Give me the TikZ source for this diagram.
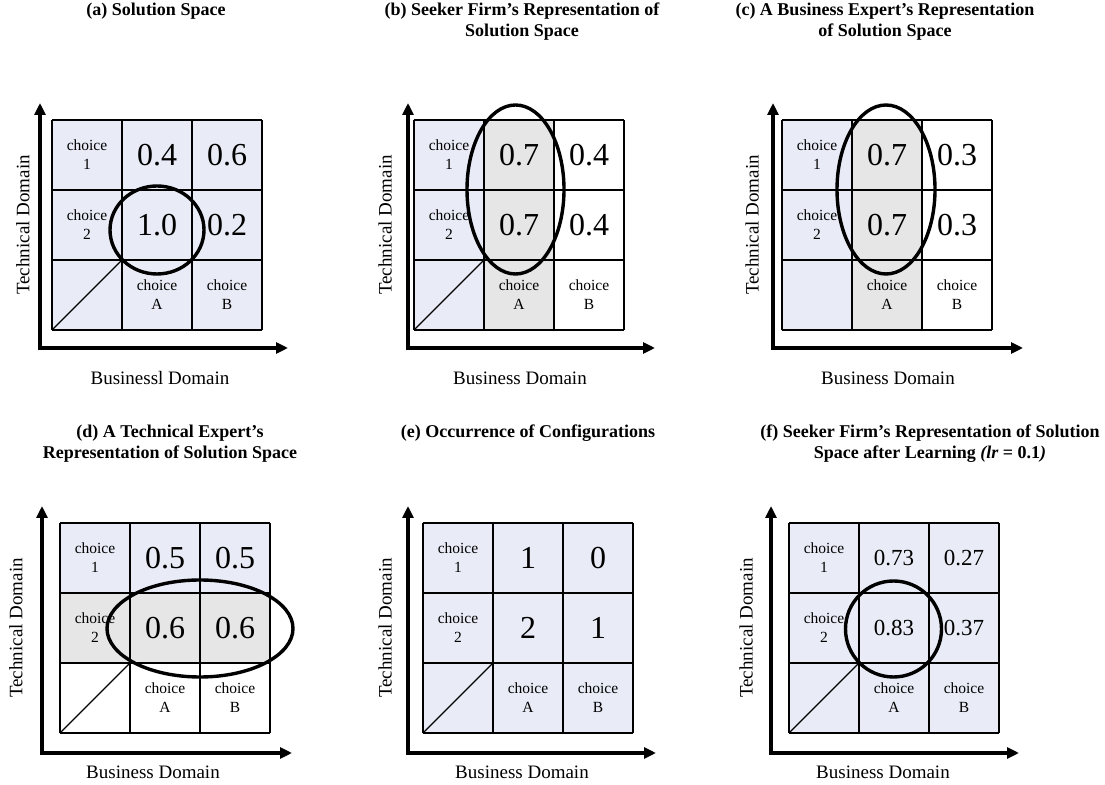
\documentclass[tikz,border=0pt]{standalone}
\usepackage{fontspec}
\setmainfont{Liberation Serif}
\usetikzlibrary{arrows.meta}
\definecolor{cellblue}{RGB}{233,235,246}
\definecolor{cellgray}{RGB}{230,230,230}
\tikzset{
    cellline/.style={draw=black, line width=1.3pt},
    axisline/.style={line width=3.6pt, arrows={Triangle[length=12pt,width=11pt]-Triangle[length=12pt,width=11pt]}},
    ring/.style={draw=black, line width=3.4pt},
    small/.style={font=\fontsize{15.5}{19}\selectfont, align=center, inner sep=0pt},
    big/.style={font=\fontsize{32}{32}\selectfont, inner sep=0pt},
    mid/.style={font=\fontsize{23}{23}\selectfont, inner sep=0pt},
    title/.style={font=\bfseries\fontsize{18}{21}\selectfont, align=center, anchor=north, inner sep=0pt},
    axislabel/.style={font=\fontsize{19}{19}\selectfont, inner sep=0pt}
}
\begin{document}
\begin{tikzpicture}[x=1pt,y=1pt]
    \useasboundingbox (0,0) rectangle (1105,784);
    % shading of the cells
    \fill[cellblue] (52,454) rectangle ++(210,210);
    \fill[cellblue] (414,454) rectangle ++(70,210);
    \fill[cellgray] (484,454) rectangle ++(70,210);
    \fill[cellblue] (782,454) rectangle ++(70,210);
    \fill[cellgray] (852,454) rectangle ++(70,210);
    \fill[cellblue] (60,191) rectangle ++(210,70);
    \fill[cellgray] (60,121) rectangle ++(210,70);
    \fill[cellblue] (423,51) rectangle ++(210,210);
    \fill[cellblue] (789,51) rectangle ++(210,210);
    % grids, axes and labels
    \foreach \p/\ox/\oy/\ax/\ay/\tip/\lx/\by/\bx/\bt in {
        a/52/454/-12/-18/236/-29/-48/108/Businessl Domain,
        b/414/454/-6/-18/241/-29/-48/106/Business Domain,
        c/782/454/-9/-18/241/-30/-48/106/Business Domain,
        d/60/51/-18/-20/232/-44/-39/93/Business Domain,
        e/423/51/-15/-20/233/-38/-39/99/Business Domain,
        f/789/51/-18/-20/230/-43/-39/94/Business Domain} {
        \begin{scope}[shift={(\ox,\oy)}]
            \draw[cellline] (0,0) grid[step=70] (210,210);
            \coordinate (\p-o) at (\ax,\ay);
            \coordinate (\p-y) at (\ax,227);
            \coordinate (\p-x) at (\tip,\ay);
            \draw[axisline] (\p-y) -- (\p-o) -- (\p-x);
            \node[axislabel, rotate=90] (\p-tech) at (\lx,105) {Technical Domain};
            \node[axislabel] (\p-bus) at (\bx,\by) {\bt};
            \foreach \n/\x/\y in {1/35/175, 2/35/105, A/105/35, B/175/35}
                \node[small] (\p-\n) at (\x,\y) {choice\\\n};
        \end{scope}
    }
    \foreach \ox/\oy in {52/454, 414/454, 60/51, 423/51, 789/51}
        \draw[cellline] (\ox,\oy) -- ++(70,70);
    % values
    \foreach \p/\ox/\oy/\va/\vb/\vc/\vd in {
        a/52/454/0.4/0.6/1.0/0.2,
        b/414/454/0.7/0.4/0.7/0.4,
        c/782/454/0.7/0.3/0.7/0.3,
        d/60/51/0.5/0.5/0.6/0.6,
        e/423/51/1/0/2/1} {
        \begin{scope}[shift={(\ox,\oy)}]
            \node[big] (\p-v1) at (105,175) {\va};
            \node[big] (\p-v2) at (175,175) {\vb};
            \node[big] (\p-v3) at (105,105) {\vc};
            \node[big] (\p-v4) at (175,105) {\vd};
        \end{scope}
    }
    \begin{scope}[shift={(789,51)}]
        \node[mid] (f-v1) at (105,175) {0.73};
        \node[mid] (f-v2) at (175,175) {0.27};
        \node[mid] (f-v3) at (105,105) {0.83};
        \node[mid] (f-v4) at (175,105) {0.37};
    \end{scope}
    % highlighted regions
    \draw[ring] (157,554) ellipse [x radius=47pt, y radius=44pt];
    \draw[ring] (515.5,594.5) ellipse [x radius=48.5pt, y radius=84.5pt];
    \draw[ring] (886,594.5) ellipse [x radius=49pt, y radius=84.5pt];
    \draw[ring] (200,155.5) ellipse [x radius=93pt, y radius=48.5pt];
    \draw[ring] (893.5,155) ellipse [x radius=48pt, y radius=48pt];
    % titles
    \node[title] (ta) at (156,781) {(a) Solution Space};
    \node[title] (tb) at (522,781) {(b) Seeker Firm's Representation of\\Solution Space};
    \node[title] (tc) at (885,781) {(c) A Business Expert's Representation\\of Solution Space};
    \node[title] (td) at (170,359) {(d) A Technical Expert's\\Representation of Solution Space};
    \node[title] (te) at (528,359) {(e) Occurrence of Configurations};
    \node[title] (tf) at (930,359) {(f) Seeker Firm's Representation of Solution\\Space after Learning {\itshape(lr} = 0.1{\itshape)}};
\end{tikzpicture}
\end{document}
